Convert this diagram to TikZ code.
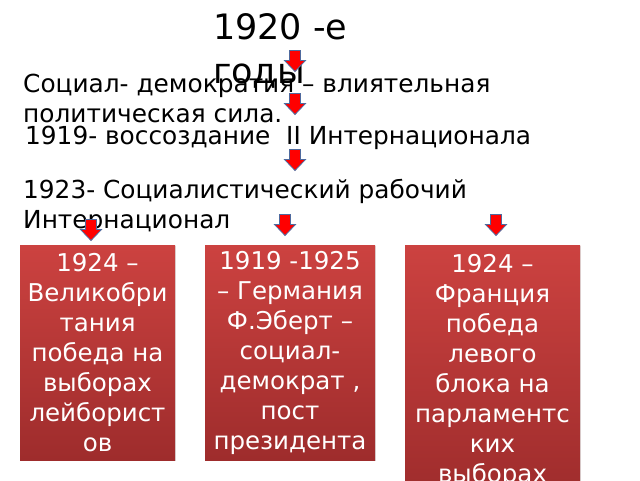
\documentclass[tikz,border=0pt]{standalone}
\usepackage{fontspec}
\setmainfont{DejaVu Sans}
\usepackage{tikz}
\usetikzlibrary{shadows}

\definecolor{boxtop}{RGB}{204,66,64}
\definecolor{boxbot}{RGB}{158,44,44}
\definecolor{arrline}{RGB}{79,106,158}

\begin{document}
\begin{tikzpicture}[x=1pt,y=-1pt,
    ttl/.style={anchor=base west, inner sep=0pt, align=left, font=\fontsize{35}{44}\selectfont},
    txt/.style={anchor=base west, inner sep=0pt, align=left, font=\fontsize{24.8}{29.5}\selectfont},
    redbox/.style={anchor=north, inner sep=0pt, align=center, text=white,
        top color=boxtop, bottom color=boxbot,
        drop shadow={opacity=0.25, shadow xshift=1pt, shadow yshift=-1pt},
        font=\fontsize{24.5}{30}\selectfont},
    downarr/.pic={
        \draw[fill=red, draw=arrline, line width=0.8pt, line join=miter]
        (-5.5,-10.5) -- (5.5,-10.5) -- (5.5,-0.5) -- (10.5,-0.5) -- (0,10.5)
        -- (-10.5,-0.5) -- (-5.5,-0.5) -- cycle;
    }]
    \def\bw{155}
    \def\bh{215}
    \clip (0,0) rectangle (640,480);
    \fill[white] (0,0) rectangle (640,480);

    % headings (base = last line)
    \node[ttl] (title) at (213,83) {1920 -е\\годы};
    \node[txt] (sdem) at (23,122) {Социал- демократия – влиятельная\\политическая сила.};
    \node[txt] (intII) at (25,144) {1919- воссоздание\ \ II Интернационала};
    \node[txt] (rsi) at (23,228) {1923- Социалистический рабочий\\Интернационал};

    % countries
    \node[redbox, minimum width=\bw, minimum height=\bh] (uk) at (97.5,245)
        {1924 –\\Великобри\\тания\\победа на\\выборах\\лейборист\\ов};
    \node[redbox, minimum width=170, minimum height=\bh] (ger) at (290,245)
        {1919 -1925\\– Германия\\Ф.Эберт –\\социал-\\демократ ,\\пост\\президента};
    \node[redbox, minimum width=175, minimum height=252] (fra) at (492.5,245)
        {1924 –\\Франция\\победа\\левого\\блока на\\парламентс\\ких\\выборах};

    % arrows
    \pic at (295,61) {downarr};
    \pic at (295,104) {downarr};
    \pic at (295,160) {downarr};
    \pic at (91,230) {downarr};
    \pic at (285,225) {downarr};
    \pic at (496,225) {downarr};
\end{tikzpicture}
\end{document}
